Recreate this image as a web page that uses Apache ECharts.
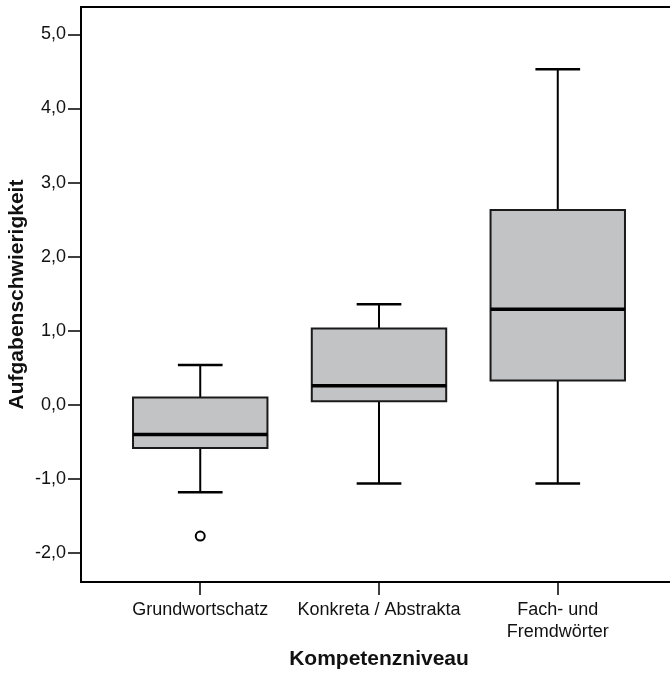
<!DOCTYPE html>
<html>
<head>
<meta charset="utf-8">
<script src="https://cdn.jsdelivr.net/npm/echarts@6/dist/echarts.min.js"></script>
<style>html,body{margin:0;padding:0;background:#fff}#c{width:670px;height:673px}</style>
</head>
<body>
<div id="c"></div>
<script>
const categories = ['Grundwortschatz', 'Konkreta / Abstrakta', 'Fach- und\nFremdwörter'];
const lowerWhisker = [-1.18, -1.06, -1.06];
const q1 = [-0.58, 0.05, 0.33];
const median = [-0.40, 0.26, 1.29];
const q3 = [0.10, 1.03, 2.63];
const upperWhisker = [0.54, 1.36, 4.53];
const outliers = [[1, -1.77]];
const yTicks = [-2, -1, 0, 1, 2, 3, 4, 5];
const xTicks = [1, 2, 3];
const yTitle = 'Aufgabenschwierigkeit';
const xTitle = 'Kompetenzniveau';

const FONT = 'Liberation Sans, Arial, sans-serif';
const boxData = categories.map((c, i) => [i + 1, lowerWhisker[i], q1[i], median[i], q3[i], upperWhisker[i]]);

const chart = echarts.init(document.getElementById('c'), null, {renderer: 'canvas'});
chart.setOption({
  animation: false,
  backgroundColor: '#fff',
  grid: {left: 81, top: 7, right: -7, bottom: 91, show: true, borderColor: '#000', borderWidth: 2, backgroundColor: 'transparent', outerBoundsMode: 'none', containLabel: false},
  graphic: [{
    type: 'text', x: 17, y: 294.5, rotation: Math.PI / 2,
    style: {text: yTitle, fontFamily: FONT, fontSize: 21, fontWeight: 'bold', fill: '#111', align: 'center', verticalAlign: 'middle'}
  }],
  xAxis: {
    type: 'value', min: 0.333, max: 3.667,
    name: xTitle, nameLocation: 'middle', nameGap: 67,
    nameTextStyle: {fontFamily: FONT, fontSize: 21, fontWeight: 'bold', color: '#111'},
    splitLine: {show: false},
    axisLine: {show: true, onZero: false, lineStyle: {color: '#000', width: 2}},
    axisTick: {show: true, customValues: xTicks, length: 13, lineStyle: {color: '#000', width: 1.5}},
    axisLabel: {show: true, customValues: xTicks, margin: 17, fontFamily: FONT, fontSize: 18, lineHeight: 22, color: '#111',
      formatter: v => categories[Math.round(v) - 1] || ''}
  },
  yAxis: {
    type: 'value', min: -2.39, max: 5.37,
    splitLine: {show: false},
    axisLine: {show: true, onZero: false, lineStyle: {color: '#000', width: 2}},
    axisTick: {show: true, customValues: yTicks, length: 13, lineStyle: {color: '#000', width: 1.5}},
    axisLabel: {show: true, customValues: yTicks, margin: 15, fontFamily: FONT, fontSize: 18, color: '#111',
      formatter: v => (Math.abs(v) < 1e-9 ? 0 : v).toFixed(1).replace('.', ',')}
  },
  series: [
    {
      type: 'custom',
      data: boxData,
      encode: {x: 0, y: [1, 2, 3, 4, 5]},
      renderItem: function (params, api) {
        const x = api.value(0);
        const pLw = api.coord([x, api.value(1)]);
        const pQ1 = api.coord([x, api.value(2)]);
        const pMed = api.coord([x, api.value(3)]);
        const pQ3 = api.coord([x, api.value(4)]);
        const pUw = api.coord([x, api.value(5)]);
        const hw = api.size([0.752, 0])[0] / 2;
        const cw = api.size([0.25, 0])[0] / 2;
        const cx = pMed[0];
        const line = (x1, y1, x2, y2, w) => ({type: 'line', shape: {x1, y1, x2, y2}, style: {stroke: '#000', lineWidth: w}});
        return {
          type: 'group',
          children: [
            line(cx, pQ3[1], cx, pUw[1], 2),
            line(cx, pQ1[1], cx, pLw[1], 2),
            line(cx - cw, pUw[1], cx + cw, pUw[1], 2.5),
            line(cx - cw, pLw[1], cx + cw, pLw[1], 2.5),
            {type: 'rect', shape: {x: cx - hw, y: pQ3[1], width: 2 * hw, height: pQ1[1] - pQ3[1]},
             style: {fill: '#c2c3c5', stroke: '#1a1a1a', lineWidth: 2}},
            line(cx - hw, pMed[1], cx + hw, pMed[1], 3.5)
          ]
        };
      }
    },
    {
      type: 'scatter',
      data: outliers,
      symbol: 'circle', symbolSize: 9,
      itemStyle: {color: '#fff', borderColor: '#000', borderWidth: 2, opacity: 1}
    }
  ]
});
</script>
</body>
</html>
